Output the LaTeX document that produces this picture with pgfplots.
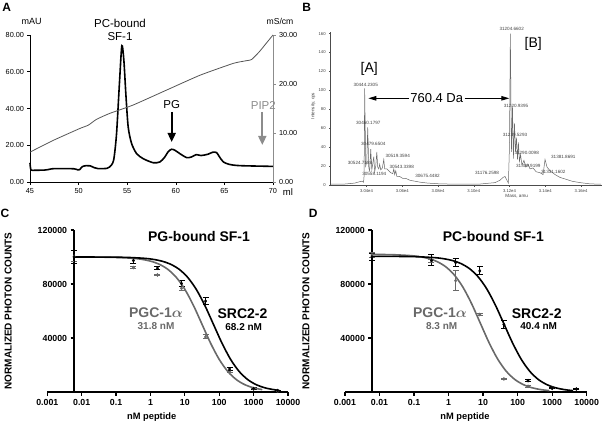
\documentclass[border=0pt]{standalone}
\usepackage{amsmath}
\usepackage{pgfplots}
\pgfplotsset{compat=1.18}
\usepackage{fontspec}
\setmainfont{Liberation Sans}
\usetikzlibrary{arrows.meta}
\definecolor{pgrey}{RGB}{105,105,105}
\definecolor{cond}{RGB}{85,85,85}
\definecolor{spec}{RGB}{105,105,105}
\pgfplotsset{
  /pgf/number format/assume math mode=true,
  dose/.style={scale only axis, height=162pt, xmin=-0.78, xmax=6.22, ymin=0, ymax=120000,
    axis lines=middle, axis line style={-, line width=1.3pt},
    every inner x axis line/.append style={-}, every inner y axis line/.append style={-},
    tick align=outside, major tick length=3.5pt, tick style={line width=1.3pt, black},
    xtick={-0.78,0.22,1.22,2.22,3.22,4.22,5.22,6.22},
    xticklabels={0.001,0.01,0.1,1,10,100,1000,10000},
    ytick={40000,80000,120000}, yticklabels={40000,80000,120000},
    scaled y ticks=false,
    ticklabel style={font=\fontsize{8.8}{10}\selectfont\bfseries},
    clip=false},
  ebar/.style={only marks, mark=diamond*, mark size=1.6pt,
    error bars/y dir=both, error bars/y explicit,
    error bars/error bar style={line width=1pt},
    error bars/error mark options={rotate=90, line width=1pt, mark size=3pt}}
}
\newcommand{\pl}[3]{\node[font=\fontsize{4.6}{5}\selectfont, inner sep=0pt, text=black!75] at (#1,#2) {#3};}
\begin{document}
\begin{tikzpicture}[x=1pt,y=1pt]
\useasboundingbox (0,0) rectangle (603,424);

% ---------------- Panel A ----------------
\begin{axis}[at={(30pt,242pt)}, anchor=south west, scale only axis, width=243pt, height=147pt,
  xmin=45, xmax=70, ymin=0, ymax=80,
  axis x line=bottom, axis y line=left, axis line style={-, line width=0.7pt},
  tick align=outside, major tick length=2.5pt, tick style={line width=0.6pt, black},
  xtick={45,50,...,70}, ytick={0,20,...,80},
  yticklabel={\pgfmathprintnumber[fixed,fixed zerofill,precision=2]{\tick}},
  ticklabel style={font=\fontsize{7.3}{8}\selectfont}, clip=false]
\addplot[black, line width=1.6pt, smooth, tension=0.45] coordinates {
(45.0,10.4) (45.1,6.6) (45.5,6.4) (46.5,6.5) (47.0,6.9) (47.5,7.3) (49.5,7.2) (49.9,6.6) (50.1,6.7)
(50.4,8.4) (50.8,8.9) (51.2,8.8) (51.6,7.8) (52.0,7.3) (52.9,7.4) (53.2,8.2) (53.6,11.8) (53.9,26)
(54.2,53.6) (54.45,74.2) (54.66,66) (54.86,48) (55.1,30) (55.45,21) (55.96,15.5) (56.64,12.7)
(57.67,10.5) (58.36,10.9) (58.87,13.6) (59.2,16.4) (59.55,17.8) (59.9,17.3) (60.4,15.5) (61.1,13.3)
(61.6,13.6) (62.1,14.9) (62.6,14.4) (63.3,15.1) (63.8,16.2) (64.2,16) (64.5,13.6) (64.9,10.9)
(65.5,9.6) (66.6,8.9) (70,8.5)};
\end{axis}
\begin{axis}[at={(30pt,242pt)}, anchor=south west, scale only axis, width=243pt, height=147pt,
  xmin=45, xmax=70, ymin=0, ymax=30,
  axis x line=none, axis y line=right, axis line style={-, line width=0.7pt, black!45},
  tick align=outside, major tick length=2.5pt, tick style={line width=0.6pt, black!45},
  ytick={0,10,20,30},
  yticklabel={\pgfmathprintnumber[fixed,fixed zerofill,precision=2]{\tick}},
  ticklabel style={font=\fontsize{7.3}{8}\selectfont}, clip=false]
\addplot[cond, line width=0.8pt, smooth, tension=0.3] coordinates {
(45,6.1) (47.4,8.5) (50.1,10.9) (51.0,11.6) (51.85,12.8) (53.2,14.0) (55.6,15.7) (59.04,18.75)
(62.5,21.8) (65.9,24.2) (67.1,24.7) (67.8,25.0) (68.6,26.6) (69.3,28.3) (70,30.0)};
\end{axis}
\node[font=\fontsize{12}{14}\selectfont\bfseries] at (6.7,417) {A};
\node[font=\fontsize{9}{10}\selectfont] at (31.7,402.3) {mAU};
\node[font=\fontsize{8.6}{10}\selectfont] at (280,402.3) {mS/cm};
\node[font=\fontsize{9.5}{10}\selectfont] at (288,231.5) {ml};
\node[font=\fontsize{11.5}{13}\selectfont] at (120,400.7) {PC-bound};
\node[font=\fontsize{11.5}{13}\selectfont] at (120,387.3) {SF-1};
\node[font=\fontsize{11.5}{13}\selectfont] at (171.7,319) {PG};
\node[font=\fontsize{11.5}{13}\selectfont, text=black!45] at (263.3,319) {PIP2};
\draw[-{Triangle[length=9pt,width=8pt]}, line width=1.8pt] (171.7,312) -- (171.7,282);
\draw[-{Triangle[length=9pt,width=8pt]}, line width=1.8pt, black!45] (262.3,312) -- (262.3,279);

% ---------------- Panel B ----------------
\begin{axis}[at={(330.7pt,239pt)}, anchor=south west, scale only axis, width=271pt, height=153.3pt,
  xmin=30200, xmax=31716, ymin=0, ymax=162,
  axis x line=bottom, axis y line=left, axis line style={-, line width=0.5pt, black!70},
  tick align=outside, major tick length=1.5pt, tick style={line width=0.4pt, black!70},
  xtick={30400,30600,30800,31000,31200,31400,31600},
  xticklabels={3.04e4,3.06e4,3.08e4,3.10e4,3.12e4,3.14e4,3.16e4}, scaled x ticks=false,
  ytick={0,20,...,160},
  ticklabel style={font=\fontsize{4.2}{5}\selectfont, text=black!75}, clip=false]
\addplot[spec, line width=0.5pt] coordinates {
(30200,1.0) (30278,1.0) (30334,2.0) (30362,3.5) (30374,4.0) (30384,3.0) (30387,10) (30390,102)
(30396,20) (30402,25) (30407,61) (30413,18) (30418,15) (30424,38) (30430,16) (30435,22) (30441,30)
(30446,14) (30452,20) (30458,35) (30463,19) (30469,17) (30474,22) (30480,16) (30489,18) (30497,27)
(30502,17) (30514,17) (30525,15) (30536,13) (30547,12) (30553,17) (30558,11) (30564,15) (30570,9)
(30586,9) (30603,7) (30620,7) (30643,5) (30671,4) (30699,3) (30743,2) (30811,1.2) (30923,0.8)
(31035,1.0) (31119,2.5) (31147,5) (31164,8) (31175,9) (31186,5) (31194,2) (31200,40) (31205,160)
(31211,35) (31217,82) (31222,28) (31228,65) (31234,35) (31239,50) (31245,27) (31250,45) (31256,25)
(31262,32) (31270,21) (31281,26) (31292,19) (31304,22) (31315,17) (31332,18) (31349,14) (31371,13)
(31388,11) (31399,27) (31410,19) (31427,15) (31455,11) (31483,8) (31517,6) (31550,4) (31595,2.5)
(31651,1.2) (31713,0.8)};
\end{axis}
\node[font=\fontsize{12}{14}\selectfont\bfseries] at (306.7,417) {B};
\node[font=\fontsize{4.6}{5}\selectfont, rotate=90, text=black!75] at (313.3,318) {Intensity, cps};
\node[font=\fontsize{4.6}{5}\selectfont, text=black!75] at (516.7,227.3) {Mass, amu};
\node[font=\fontsize{14}{16}\selectfont] at (369.3,355) {[A]};
\node[font=\fontsize{14}{16}\selectfont] at (533.3,380) {[B]};
\node[font=\fontsize{13}{15}\selectfont] at (436.7,325.7) {760.4 Da};
\draw[-{Triangle[length=8pt,width=4.5pt]}, line width=0.9pt] (409,325.7) -- (368.3,325.7);
\draw[-{Triangle[length=8pt,width=4.5pt]}, line width=0.9pt] (464.5,325.7) -- (509.3,325.7);
\pl{365.7}{339}{30444.2305}
\pl{368.3}{300.7}{30460.1797}
\pl{373.3}{280}{30479.6504}
\pl{397.7}{268}{30519.3594}
\pl{360}{261.3}{30524.7188}
\pl{374.3}{250}{30558.1194}
\pl{401.7}{257}{30543.3398}
\pl{427.5}{248.5}{30675.4482}
\pl{511.7}{394.7}{31204.6602}
\pl{516}{318}{31220.9395}
\pl{515}{289}{31239.5293}
\pl{526.7}{271.3}{31290.0098}
\pl{528.3}{258}{31309.9199}
\pl{553.3}{252.3}{31331.1602}
\pl{563.3}{267.3}{31381.8691}
\pl{487}{251}{31176.2598}

% ---------------- Panel C ----------------
\begin{axis}[dose, at={(47.3pt,32pt)}, anchor=south west, width=240.7pt]
\addplot[ebar, pgrey] coordinates {
(0,100500)+-(0,4000) (1.725,92200)+-(0,600) (2.424,86700)+-(0,600) (3.123,76800)+-(0,1500)
(3.822,40800)+-(0,1500) (4.521,15100)+-(0,600) (5.22,2200)+-(0,400) (5.919,600)+-(0,300)};
\addplot[ebar, black] coordinates {
(0,100000)+-(0,5000) (1.725,97400)+-(0,2200) (2.424,91700)+-(0,1000) (3.123,80400)+-(0,1900)
(3.822,67300)+-(0,2500) (4.521,17000)+-(0,800) (5.22,2500)+-(0,500) (5.919,1000)+-(0,400)};
\addplot[pgrey, line width=1.6pt, smooth] coordinates {
(0,99981) (0.2224,99968) (0.7224,99900) (1.2224,99685) (1.7224,99010) (1.9724,98250) (2.2224,96930)
(2.4724,94680) (2.7224,90910) (2.9724,84900) (3.2224,75970) (3.4724,64010) (3.7224,50000)
(3.9724,35990) (4.2224,24030) (4.4724,15100) (4.7224,9090) (4.9724,5320) (5.2224,3070) (5.4724,1750)};
\addplot[black, line width=1.6pt, smooth] coordinates {
(0,99991) (0.5538,99968) (1.0538,99900) (1.5538,99685) (2.0538,99010) (2.3038,98250) (2.5538,96930)
(2.8038,94680) (3.0538,90910) (3.3038,84900) (3.5538,75970) (3.8038,64010) (4.0538,50000)
(4.3038,35990) (4.5538,24030) (4.8038,15100) (5.0538,9090) (5.3038,5320) (5.5538,3070) (5.8038,1750)
(5.97,1190)};
\end{axis}
\node[font=\fontsize{12}{14}\selectfont\bfseries] at (5,210.7) {C};
\node[font=\fontsize{10}{12}\selectfont\bfseries, rotate=90] at (8.3,113) {NORMALIZED PHOTON COUNTS};
\node[font=\fontsize{9.3}{11}\selectfont\bfseries] at (151.7,7.3) {nM peptide};
\node[font=\fontsize{14}{16}\selectfont\bfseries] at (199,188) {PG-bound SF-1};
\node[font=\fontsize{14}{16}\selectfont\bfseries, text=pgrey] at (156,111.5) {PGC-1$\boldsymbol{\alpha}$};
\node[font=\fontsize{10}{12}\selectfont\bfseries, text=pgrey] at (156,97.5) {31.8 nM};
\node[font=\fontsize{14}{16}\selectfont\bfseries] at (242.5,110.3) {SRC2-2};
\node[font=\fontsize{10}{12}\selectfont\bfseries] at (243.7,97.3) {68.2 nM};

% ---------------- Panel D ----------------
\begin{axis}[dose, at={(345pt,32pt)}, anchor=south west, width=241.7pt]
\addplot[ebar, pgrey] coordinates {
(0,101500)+-(0,2000) (1.725,97000)+-(0,1000) (2.424,82500)+-(0,7200) (3.123,57400)+-(0,800)
(3.822,9700)+-(0,600) (4.521,4200)+-(0,500) (5.22,2800)+-(0,400)};
\addplot[ebar, black] coordinates {
(0,100000)+-(0,2500) (1.725,97500)+-(0,4100) (2.424,95900)+-(0,3000) (3.123,89700)+-(0,3000)
(3.822,50000)+-(0,3000) (4.521,8400)+-(0,800) (5.22,2800)+-(0,500) (5.919,2200)+-(0,400)};
\addplot[pgrey, line width=1.6pt, smooth] coordinates {
(0,101926) (0.1391,101898) (0.6391,101679) (1.1391,100990) (1.3891,100215) (1.6391,98869)
(1.8891,96574) (2.1391,92728) (2.3891,86598) (2.6391,77489) (2.8891,65290) (3.1391,51000)
(3.3891,36710) (3.6391,24511) (3.8891,15402) (4.1391,9272) (4.3891,5426) (4.6391,3131)
(4.8891,1785) (5.1391,1010)};
\addplot[black, line width=1.6pt, smooth] coordinates {
(0,100485) (0.3264,100468) (0.8264,100400) (1.3264,100183) (1.8264,99505) (2.0764,98741)
(2.3264,97415) (2.5764,95153) (2.8264,91364) (3.0764,85325) (3.3264,76350) (3.5764,64330)
(3.8264,50250) (4.0764,36170) (4.3264,24150) (4.5764,15176) (4.8264,9135) (5.0764,5347)
(5.3264,3085) (5.5764,1759) (5.8264,995)};
\end{axis}
\node[font=\fontsize{12}{14}\selectfont\bfseries] at (313.3,210.7) {D};
\node[font=\fontsize{10}{12}\selectfont\bfseries, rotate=90] at (306,113) {NORMALIZED PHOTON COUNTS};
\node[font=\fontsize{9.3}{11}\selectfont\bfseries] at (465,7) {nM peptide};
\node[font=\fontsize{14}{16}\selectfont\bfseries] at (493.3,188) {PC-bound SF-1};
\node[font=\fontsize{14}{16}\selectfont\bfseries, text=pgrey] at (440,111.5) {PGC-1$\boldsymbol{\alpha}$};
\node[font=\fontsize{10}{12}\selectfont\bfseries, text=pgrey] at (441.7,97.6) {8.3 nM};
\node[font=\fontsize{14}{16}\selectfont\bfseries] at (536.7,110.7) {SRC2-2};
\node[font=\fontsize{10}{12}\selectfont\bfseries] at (538.7,97.6) {40.4 nM};
\end{tikzpicture}
\end{document}
